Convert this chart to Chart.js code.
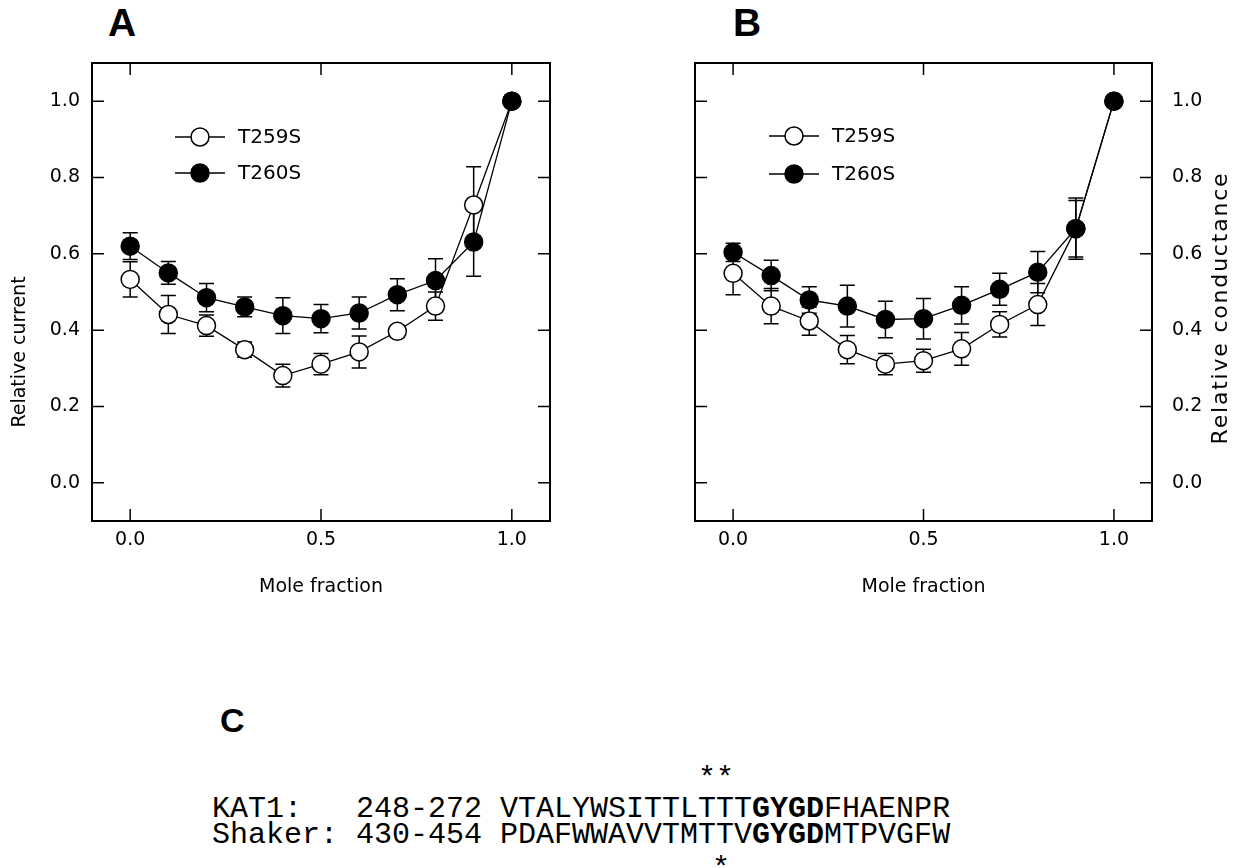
<!doctype html>
<html lang="en">
<head>
  <meta charset="utf-8">
  <title>Mole fraction - T259S / T260S</title>
  <script src="https://cdn.jsdelivr.net/npm/chart.js"></script>
  <style>
    body { margin: 0; background: #fff; width: 1248px; height: 868px; overflow: hidden; position: relative; }
    canvas { position: absolute; top: 0; }
    .letter { position: absolute; font: bold 39px "Liberation Sans", Arial, sans-serif; line-height: 1; color: #000; }
    .seq { position: absolute; margin: 0; font: 30px "Liberation Mono", "Courier New", monospace; line-height: 26px; color: #000; }
  </style>
</head>
<body>
  <div class="letter" style="left:108px; top:3px;">A</div>
  <div class="letter" style="left:733px; top:3px;">B</div>
  <canvas id="chartA" width="624" height="620" style="left:0px"></canvas>
  <canvas id="chartB" width="624" height="620" style="left:624px"></canvas>

  <div class="letter" style="left:220px; top:703px; font-size:34px;">C</div>
  <pre class="seq" style="left:212px; top:766px;">                           **</pre>
  <pre class="seq" style="left:212px; top:796px;">KAT1:   248-272 VTALYWSITTLTTT<b>GYGD</b>FHAENPR
Shaker: 430-454 PDAFWWAVVTMTTV<b>GYGD</b>MTPVGFW</pre>
  <pre class="seq" style="left:712px; top:856px;">*</pre>

  <script>
    // mole fraction of the mutant subunit
    const moleFraction = [0, 0.1, 0.2, 0.3, 0.4, 0.5, 0.6, 0.7, 0.8, 0.9, 1.0];

    // A: relative current
    const currentT259S    = [0.533, 0.441, 0.412, 0.349, 0.281, 0.311, 0.343, 0.397, 0.463, 0.728, 1.0];
    const currentT259SErr = [0.046, 0.050, 0.028, 0.020, 0.030, 0.028, 0.042, 0.015, 0.037, 0.100, 0];
    const currentT260S    = [0.620, 0.550, 0.485, 0.461, 0.438, 0.430, 0.445, 0.493, 0.530, 0.631, 1.0];
    const currentT260SErr = [0.035, 0.030, 0.037, 0.026, 0.047, 0.037, 0.042, 0.042, 0.057, 0.090, 0];

    // B: relative conductance
    const condT259S    = [0.549, 0.463, 0.424, 0.349, 0.311, 0.320, 0.351, 0.415, 0.467, 0.666, 1.0];
    const condT259SErr = [0.056, 0.046, 0.037, 0.037, 0.028, 0.030, 0.043, 0.033, 0.055, 0.080, 0];
    const condT260S    = [0.604, 0.543, 0.479, 0.463, 0.428, 0.430, 0.465, 0.507, 0.552, 0.666, 1.0];
    const condT260SErr = [0.024, 0.040, 0.035, 0.055, 0.048, 0.053, 0.049, 0.042, 0.054, 0.074, 0];

    const seriesLabels = ['T259S', 'T260S'];
    const xTickValues = [0, 0.5, 1.0];
    const yTickValues = [0, 0.2, 0.4, 0.6, 0.8, 1.0];

    Chart.defaults.font.family = '"DejaVu Sans", sans-serif';
    Chart.defaults.color = '#000';

    const TICK = 12;

    // box round the plot with inward ticks on all four sides
    const frame = {
      id: 'frame',
      afterDraw(chart) {
        const { ctx, chartArea: a, scales: { x, y } } = chart;
        ctx.save();
        ctx.strokeStyle = '#000';
        ctx.lineWidth = 2;
        ctx.strokeRect(a.left, a.top, a.right - a.left, a.bottom - a.top);
        ctx.lineWidth = 1.5;
        ctx.beginPath();
        x.ticks.forEach(t => {
          const px = x.getPixelForValue(t.value);
          ctx.moveTo(px, a.bottom); ctx.lineTo(px, a.bottom - TICK);
          ctx.moveTo(px, a.top); ctx.lineTo(px, a.top + TICK);
        });
        y.ticks.forEach(t => {
          const py = y.getPixelForValue(t.value);
          ctx.moveTo(a.left, py); ctx.lineTo(a.left + TICK, py);
          ctx.moveTo(a.right, py); ctx.lineTo(a.right - TICK, py);
        });
        ctx.stroke();
        ctx.restore();
      }
    };

    // +/- error bars with caps, under the markers
    const errorBars = {
      id: 'errorBars',
      beforeDatasetsDraw(chart) {
        const { ctx, scales: { x, y } } = chart;
        ctx.save();
        ctx.strokeStyle = '#000';
        ctx.lineWidth = 1.5;
        chart.data.datasets.forEach(ds => {
          ds.data.forEach((p, j) => {
            const e = ds.errors[j];
            if (!e) return;
            const px = x.getPixelForValue(p.x);
            const top = y.getPixelForValue(p.y + e);
            const bot = y.getPixelForValue(p.y - e);
            ctx.beginPath();
            ctx.moveTo(px, top); ctx.lineTo(px, bot);
            ctx.moveTo(px - 7.5, top); ctx.lineTo(px + 7.5, top);
            ctx.moveTo(px - 7.5, bot); ctx.lineTo(px + 7.5, bot);
            ctx.stroke();
          });
        });
        ctx.restore();
      }
    };

    function makePanel(id, sets, opts) {
      const datasets = sets.map((s, i) => ({
        label: seriesLabels[i],
        data: moleFraction.map((m, j) => ({ x: m, y: s.values[j] })),
        errors: s.errors,
        showLine: true,
        borderColor: '#000',
        borderWidth: 1.3,
        pointRadius: 9,
        pointHoverRadius: 9,
        pointBorderWidth: 1.5,
        pointBorderColor: '#000',
        pointBackgroundColor: s.fill,
        order: i === 0 ? 1 : 0
      }));

      // legend inside the plot: line through marker, then label
      const insetLegend = {
        id: 'insetLegend',
        afterDatasetsDraw(chart) {
          const { ctx, chartArea: a } = chart;
          ctx.save();
          chart.data.datasets.forEach((ds, i) => {
            const cx = a.left + opts.legendX;
            const cy = opts.legendRows[i];
            ctx.strokeStyle = '#000';
            ctx.lineWidth = 1.3;
            ctx.beginPath();
            ctx.moveTo(cx - 25, cy); ctx.lineTo(cx + 25, cy);
            ctx.stroke();
            ctx.beginPath();
            ctx.arc(cx, cy, 9, 0, Math.PI * 2);
            ctx.fillStyle = ds.pointBackgroundColor;
            ctx.fill();
            ctx.lineWidth = 1.5;
            ctx.stroke();
            ctx.fillStyle = '#000';
            ctx.font = '20px "DejaVu Sans"';
            ctx.textBaseline = 'middle';
            ctx.textAlign = 'left';
            ctx.fillText(ds.label, cx + 38, cy + 1);
          });
          ctx.restore();
        }
      };

      // vertical axis title
      const yTitle = {
        id: 'yTitle',
        afterDraw(chart) {
          const { ctx } = chart;
          ctx.save();
          ctx.translate(opts.titleX, opts.titleY);
          ctx.rotate(-Math.PI / 2);
          ctx.font = opts.titleFont;
          ctx.letterSpacing = opts.titleSpacing;
          ctx.fillStyle = '#000';
          ctx.textAlign = 'center';
          ctx.textBaseline = 'middle';
          ctx.fillText(opts.title, 0, 0);
          ctx.restore();
        }
      };

      return new Chart(document.getElementById(id), {
        type: 'scatter',
        data: { datasets },
        options: {
          responsive: false,
          animation: false,
          devicePixelRatio: 1,
          layout: { padding: opts.padding },
          plugins: { legend: { display: false }, tooltip: { enabled: false } },
          scales: {
            x: {
              type: 'linear',
              min: -0.1,
              max: 1.1,
              afterBuildTicks: s => { s.ticks = xTickValues.map(v => ({ value: v })); },
              afterFit: s => { s.height = 99; },
              grid: { display: false, drawTicks: false },
              border: { display: false },
              ticks: { padding: 8, font: { size: 19 }, callback: v => v.toFixed(1) },
              title: { display: true, text: 'Mole fraction', font: { size: 19 }, padding: { top: 0, bottom: 22 } }
            },
            y: {
              type: 'linear',
              position: opts.yPosition,
              min: -0.1,
              max: 1.1,
              afterBuildTicks: s => { s.ticks = yTickValues.map(v => ({ value: v })); },
              afterFit: s => { s.width = opts.yWidth; },
              grid: { display: false, drawTicks: false },
              border: { display: false },
              ticks: { padding: opts.yPad, font: { size: 19 }, callback: v => v.toFixed(1) }
            }
          }
        },
        plugins: [errorBars, frame, insetLegend, yTitle]
      });
    }

    makePanel('chartA', [
      { values: currentT259S, errors: currentT259SErr, fill: '#fff' },
      { values: currentT260S, errors: currentT260SErr, fill: '#000' }
    ], {
      padding: { left: 32, top: 63, right: 74, bottom: 0 },
      yPosition: 'left', yWidth: 60, yPad: 12,
      legendX: 108, legendRows: [137, 173],
      title: 'Relative current', titleX: 20, titleY: 352,
      titleFont: '19px "DejaVu Sans"', titleSpacing: '0px'
    });

    makePanel('chartB', [
      { values: condT259S, errors: condT259SErr, fill: '#fff' },
      { values: condT260S, errors: condT260SErr, fill: '#000' }
    ], {
      padding: { left: 71, top: 63, right: 0, bottom: 0 },
      yPosition: 'right', yWidth: 96, yPad: 20,
      legendX: 99, legendRows: [136, 174],
      title: 'Relative conductance', titleX: 597, titleY: 308,
      titleFont: '22px "DejaVu Sans"', titleSpacing: '1.8px'
    });
  </script>
</body>
</html>
